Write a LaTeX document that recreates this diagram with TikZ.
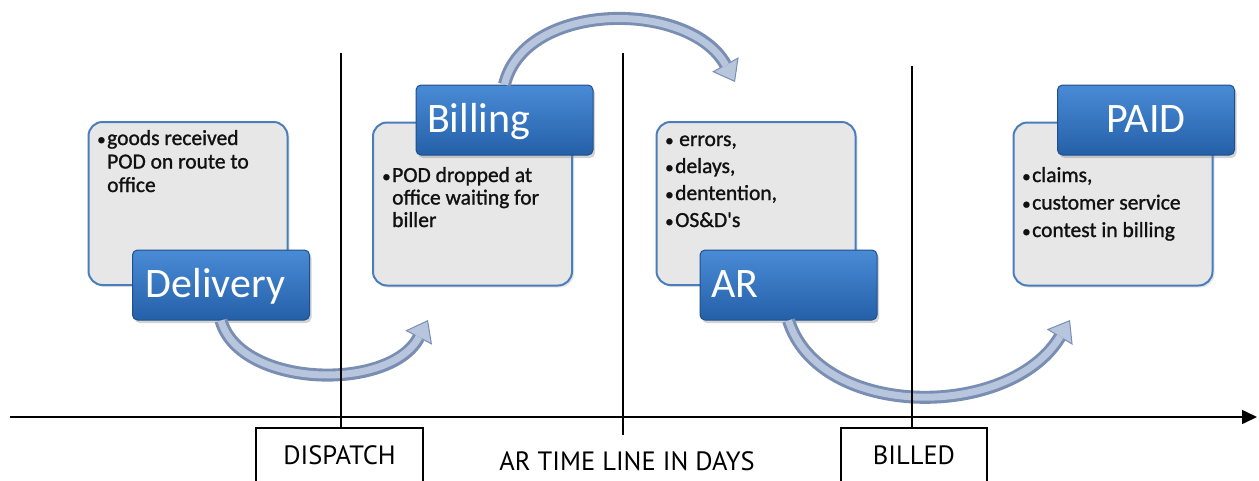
\documentclass[tikz,border=0pt]{standalone}
\usepackage{fontspec}
\setmainfont{Carlito}[Ligatures=TeXOff]
\newfontfamily\notefont{Carlito}[Ligatures=TeXOff,FakeBold=1.2]
\newfontfamily\labfont{PT Sans}
\usetikzlibrary{arrows.meta,shadows}
\definecolor{grayfill}{HTML}{E7E7E7}
\definecolor{grayedge}{HTML}{4A7EBB}
\definecolor{bluetop}{HTML}{4A8BD6}
\definecolor{bluebot}{HTML}{2460A8}
\definecolor{blueedge}{HTML}{1F4E8C}
\definecolor{arredge}{HTML}{7A8EB4}
\definecolor{arrfill}{HTML}{B7C5DD}
\definecolor{notetext}{HTML}{111111}
\newcommand{\bul}{\makebox[10pt][l]{\fontsize{17}{17}\selectfont •}}
\newcommand{\ind}{\hspace*{10pt}}
\tikzset{
  graybox/.style={draw=grayedge, line width=2pt, fill=grayfill, rounded corners=14pt,
    minimum width=199pt, minimum height=163pt, inner sep=0pt,
    drop shadow={opacity=0.2, shadow xshift=2pt, shadow yshift=-2pt}},
  bluebox/.style={draw=blueedge, line width=1pt, top color=bluetop, bottom color=bluebot,
    rounded corners=5pt, minimum width=177pt, minimum height=70pt, inner sep=0pt,
    text width=155pt, text height=29pt, text depth=5pt, text=white,
    font=\fontsize{42}{42}\selectfont,
    drop shadow={opacity=0.35, shadow xshift=2pt, shadow yshift=-3pt}},
  note/.style={inner sep=0pt, anchor=base west, text=notetext, font=\notefont},
  labbox/.style={draw=black, line width=1.2pt, minimum height=58pt, inner sep=0pt,
    text height=18pt, text depth=4pt, font=\labfont\fontsize{26.5}{26.5}\selectfont},
  arrouter/.style={draw=arredge, line width=13pt,
    -{Triangle[length=20pt,width=30pt,line width=1pt,fill=arrfill]}},
  arrinner/.style={draw=arrfill, line width=7pt, shorten >=19pt},
  axisline/.style={draw=black, line width=1.5pt},
  timeline/.style={draw=black, line width=1.2pt}
}
\begin{document}
\begin{tikzpicture}[x=1pt,y=-1pt]
\useasboundingbox (0,0) rectangle (1259,480);
% gray boxes
\node[graybox] (dbox) at (188,203.5) {};
\node[graybox] (bbox) at (472.5,204) {};
\node[graybox] (abox) at (756,203.5) {};
\node[graybox] (pbox) at (1113,204) {};
% texts in gray boxes
\node[note] (dtext) at (97,145) {\fontsize{21.5}{23.5}\selectfont\begin{tabular}[t]{@{}l@{}}\bul goods received\\ \ind POD on route to\\ \ind office\end{tabular}};
\node[note] (btext) at (382,182) {\fontsize{21.5}{22.5}\selectfont\begin{tabular}[t]{@{}l@{}}\bul POD dropped at\\ \ind office waiting for\\ \ind biller\end{tabular}};
\node[note] (atext) at (665,146) {\fontsize{21.5}{27}\selectfont\begin{tabular}[t]{@{}l@{}}\bul\hspace{4pt}errors,\\ \bul delays,\\ \bul dentention,\\ \bul OS\&D's\end{tabular}};
\node[note] (ptext) at (1022,182) {\fontsize{21.5}{27.5}\selectfont\begin{tabular}[t]{@{}l@{}}\bul claims,\\ \bul customer service\\ \bul contest in billing\end{tabular}};
% blue boxes
\node[bluebox, align=center] (deliv) at (221,285) {\hspace*{-11pt}Delivery};
\node[bluebox, align=left] (bill) at (504.5,120) {Billing};
\node[bluebox, align=left] (ar) at (788.5,285) {AR};
\node[bluebox, align=center] (paid) at (1146,120) {PAID};
% arrow end points
\coordinate (a1e) at (428,320);
\coordinate (a2e) at (735,82);
\coordinate (a3e) at (1070,320);
% curved arrows
\draw[arrouter] (deliv.south) .. controls (240,388) and (390,392) .. (a1e);
\draw[arrinner] (deliv.south) .. controls (240,388) and (390,392) .. (a1e);
\draw[arrouter] (bill.north) .. controls (525,0) and (690,0) .. (a2e);
\draw[arrinner] (bill.north) .. controls (525,0) and (690,0) .. (a2e);
\draw[arrouter] (ar.south) .. controls (820,420) and (1010,420) .. (a3e);
\draw[arrinner] (ar.south) .. controls (820,420) and (1010,420) .. (a3e);
% time axis
\coordinate (ax0) at (10,417);
\coordinate (ax1) at (1257,417);
\draw[axisline, -{Triangle[length=15pt,width=14pt]}] (ax0) -- (ax1);
% bottom labels
\node[labbox, minimum width=167pt] (dispatch) at (339.5,457) {DISPATCH};
\node[labbox, minimum width=146pt] (billed) at (914,457) {BILLED};
\node[inner sep=0pt, anchor=base, font=\labfont\fontsize{26.5}{26.5}\selectfont] (artl) at (627,470) {AR TIME LINE IN DAYS};
% vertical time lines
\coordinate (v1t) at (341,53);
\coordinate (v2t) at (623,53);
\coordinate (v2b) at (623,435);
\coordinate (v3t) at (912,66);
\draw[timeline] (v1t) -- (v1t |- dispatch.north);
\draw[timeline] (v2t) -- (v2b);
\draw[timeline] (v3t) -- (v3t |- billed.north);
\end{tikzpicture}
\end{document}
